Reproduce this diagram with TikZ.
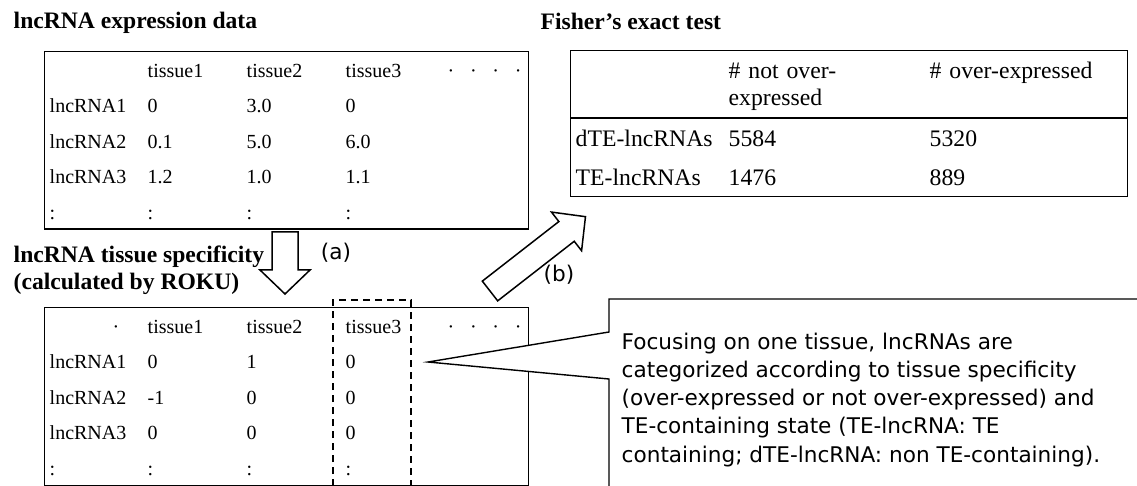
\documentclass[tikz,border=0pt]{standalone}
\usepackage{fontspec}
\setmainfont{Liberation Serif}
\newfontfamily\gothic{DejaVu Sans}
\usepackage{tikz}
\usetikzlibrary{matrix}
\def\dotsrow{\textperiodcentered\hskip15.7pt\textperiodcentered\hskip15.7pt\textperiodcentered\hskip15.7pt\textperiodcentered}
\def\hd{\fontsize{23.6}{28}\selectfont\bfseries}
\def\gt{\gothic\fontsize{21.6}{28.25}\selectfont}

\begin{document}
\begin{tikzpicture}[x=1pt,y=-1pt,line width=1.4pt,
  cell/.style={inner sep=0pt,anchor=center,align=left},
  tbl/.style={matrix of nodes,draw,inner xsep=5pt,inner ysep=0pt,anchor=north west},
  small/.style={nodes={cell,font=\fontsize{20}{24}\selectfont,minimum height=35.5pt,text height=19.5pt,text depth=3.5pt},
    column 1/.style={nodes={text width=98pt}},
    column 2/.style={nodes={text width=99pt}},
    column 3/.style={nodes={text width=99pt}},
    column 4/.style={nodes={text width=102pt}},
    column 5/.style={nodes={text width=76pt}}},
  ttl/.style={anchor=base west,inner sep=0pt,font=\hd},
  blockarr/.style={draw,fill=white,line width=1.5pt,line join=miter}]
  \useasboundingbox (0,0) rectangle (1137,486);

  \node[ttl] (t-expr) at (13,29) {lncRNA expression data};
  \node[ttl] (t-fisher) at (540,29.5) {Fisher's exact test};
  % base of a multi-line node is its last line
  \node[ttl,align=left] (t-roku) at (13,290) {lncRNA tissue specificity\\(calculated by ROKU)};

  \matrix (expr) [tbl,small] at (44,51)
  {
    & tissue1 & tissue2 & tissue3 & \dotsrow \\
    lncRNA1 & 0 & 3.0 & 0 & \\
    lncRNA2 & 0.1 & 5.0 & 6.0 & \\
    lncRNA3 & 1.2 & 1.0 & 1.1 & \\
    : & : & : & : & \\
  };

  \matrix (spec) [tbl,small] at (44,307)
  {
    \hspace*{63pt}\textperiodcentered & tissue1 & tissue2 & tissue3 & \dotsrow \\
    lncRNA1 & 0 & 1 & 0 & \\
    lncRNA2 & -1 & 0 & 0 & \\
    lncRNA3 & 0 & 0 & 0 & \\
    : & : & : & : & \\
  };

  \matrix (fisher) [tbl,
    nodes={cell,font=\fontsize{23.7}{27}\selectfont,minimum height=39pt,text height=21pt,text depth=4pt},
    row 1/.style={nodes={minimum height=68pt,text height=20pt,text depth=32pt}},
    column 1/.style={nodes={text width=153pt}},
    column 2/.style={nodes={text width=201pt}},
    column 3/.style={nodes={text width=193pt}}] at (570,50)
  {
    & \# not over-\newline expressed & \# over-expressed \\
    dTE-lncRNAs & 5584 & 5320 \\
    TE-lncRNAs & 1476 & 889 \\
  };
  \draw (fisher.west |- fisher-2-1.north) -- (fisher.east |- fisher-2-1.north);

  \draw[dash pattern=on 7pt off 5pt,line width=2pt] (333,498) -- (333,300) -- (411,300) -- (411,498);

  \coordinate (tail-a) at (285,232);
  \coordinate (tail-b) at (490,291);
  \begin{scope}[shift={(tail-a)},rotate=-90]
    \draw[blockarr] (0,-13) -- (38,-13) -- (38,-25) -- (62,0) -- (38,25) -- (38,13) -- (0,13) -- cycle;
  \end{scope}
  \begin{scope}[shift={(tail-b)},rotate=37.9]
    \draw[blockarr] (0,-12.5) -- (97,-12.5) -- (97,-24.5) -- (121,0) -- (97,24.5) -- (97,12.5) -- (0,12.5) -- cycle;
  \end{scope}
  \node[inner sep=0pt,font=\gt] (lbl-a) at (336,253) {(a)};
  \node[inner sep=0pt,font=\gt] (lbl-b) at (559,275) {(b)};

  \coordinate (tip) at (428,362);
  \draw[fill=white] (609,379) -- (tip) -- (609,332) -- (609,299) -- (1150,299) -- (1150,495) -- (609,495) -- cycle;
  \node[anchor=base west,inner sep=0pt,align=left,font=\gt] (note) at (621,462)
  {Focusing on one tissue, lncRNAs are\\
   categorized according to tissue specificity\\
   (over-expressed or not over-expressed) and\\
   TE-containing state (TE-lncRNA: TE\\
   containing; dTE-lncRNA: non TE-containing).};
\end{tikzpicture}
\end{document}
